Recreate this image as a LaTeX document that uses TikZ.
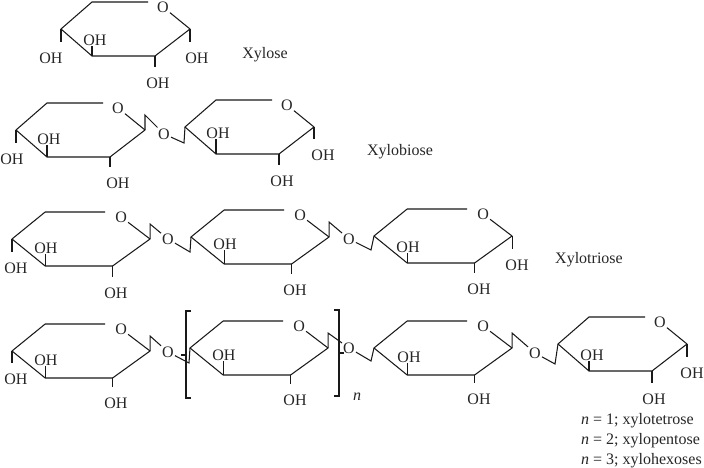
\documentclass[tikz,border=0pt]{standalone}
\usepackage{fontspec}
\setmainfont{Liberation Serif}
\tikzset{
bond/.style = {draw=black!90, line width=1.05pt},
stub/.style = {bond, shorten >=10pt},
oxy/.style = {inner sep=1pt, text=black!85, font=\fontsize{16}{18}\selectfont},
hydroxyl/.style = {inner sep=0pt, text=black!85, font=\fontsize{16}{18}\selectfont},
caption/.style = {inner sep=0pt, yshift=-2pt, text=black!85, font=\fontsize{16}{18}\selectfont},
legend/.style = {inner sep=0pt, yshift=-2pt, anchor=west, text=black!85, font=\fontsize{16}{18}\selectfont}
}
% ring: name, left vertex x, y, width factor
\newcommand{\sugarring}[4]{
    \begin{scope}[shift={(#2,#3)}, xscale=#4]
    \coordinate (#1l) at (0,0);
    \coordinate (#1tl) at (31,-27);
    \coordinate (#1tr) at (87,-27);
    \node[oxy] (#1o) at (102,-22) {O};
    \coordinate (#1c) at (129,0);
    \coordinate (#1br) at (94,27);
    \coordinate (#1bl) at (31,27);
    \end{scope}
    \draw[bond, line join=round] (#1o) -- (#1c) -- (#1br) -- (#1bl) -- (#1l) -- (#1tl) -- (#1tr);
}
% OH hanging below a vertex: name, vertex, position
\newcommand{\ohbelow}[3]{
    \node[hydroxyl] (#1) at (#3) {OH};
    \draw[stub] (#2) -- (#2 |- #1.north);
}
% OH standing above a vertex
\newcommand{\ohabove}[3]{
    \node[hydroxyl] (#1) at (#3) {OH};
    \draw[bond] (#2) -- (#2 |- #1.south);
}
% glycosidic O: name, position, from vertex, elbow position, to vertex
\newcommand{\sugarlink}[5]{
    \node[oxy] (#1) at (#2) {O};
    \draw[bond] (#3) -- ++(0,-15) -- (#1);
    \draw[bond] (#1) -- (#4) -- (#5);
}
\begin{document}
\begin{tikzpicture}[x=1pt, y=-1pt]
    \useasboundingbox (0,0) rectangle (704,468);
    % xylose
    \sugarring{a}{61}{29}{1}
    \ohbelow{a1}{al}{51,58}
    \ohabove{a2}{abl}{95,40}
    \ohbelow{a3}{abr}{158,83}
    \ohbelow{a4}{ac}{197,58}
    \node[caption] (xylose) at (265,53) {Xylose};
    % xylobiose
    \sugarring{b}{16}{130}{1}
    \ohbelow{b1}{bl}{12,159}
    \ohabove{b2}{bbl}{49,139}
    \ohbelow{b3}{bbr}{118,183}
    \sugarring{c}{185}{127}{1}
    \sugarlink{lk1}{164,134}{bc}{184,143}{cl}
    \ohabove{c2}{cbl}{218,133}
    \ohbelow{c3}{cbr}{282,181}
    \ohbelow{c4}{cc}{323,155}
    \node[caption] (xylobiose) at (400,150) {Xylobiose};
    % xylotriose
    \sugarring{d}{12}{239}{1.07}
    \ohbelow{d1}{dl}{16,268}
    \ohabove{d2}{dbl}{46,248}
    \ohbelow{d3}{dbr}{116,293}
    \sugarring{e}{191}{237}{1.07}
    \sugarlink{lk2}{168,239}{dc}{190,252}{el}
    \ohabove{e2}{ebl}{225,244}
    \ohbelow{e3}{ebr}{295,290}
    \sugarring{f}{374}{236}{1.07}
    \sugarlink{lk3}{349,239}{ec}{371,250}{fl}
    \ohabove{f2}{fbl}{408,247}
    \ohbelow{f3}{fbr}{479,289}
    \ohbelow{f4}{fc}{517,265}
    \node[caption] (xylotriose) at (589,258) {Xylotriose};
    % xylooligomers
    \sugarring{g}{12}{351}{1.07}
    \ohbelow{g1}{gl}{16,379}
    \ohabove{g2}{gbl}{46,360}
    \ohbelow{g3}{gbr}{116,403}
    \sugarring{h}{190}{348}{1.07}
    \sugarlink{lk4}{168,352}{gc}{189,363}{hl}
    \ohabove{h2}{hbl}{224,355}
    \ohbelow{h3}{hbr}{295,400}
    \sugarring{i}{374}{348}{1.07}
    \sugarlink{lk5}{349,348}{hc}{371,361}{il}
    \ohabove{i2}{ibl}{409,357}
    \ohbelow{i3}{ibr}{479,399}
    \sugarring{j}{558}{344}{1}
    \sugarlink{lk6}{535,353}{ic}{555,364}{jl}
    \ohabove{j2}{jbl}{592,355}
    \ohbelow{j3}{jbr}{654,399}
    \ohbelow{j4}{jc}{692,373}
    % repeat brackets
    \draw[bond] (191,311) -- (186,311) -- (186,398) -- (191,398);
    \draw[bond] (181,355) -- (186,355);
    \draw[bond] (334,310) -- (339,310) -- (339,396) -- (334,396);
    \draw[bond] (339,353) -- (344,353);
    \node[hydroxyl] (repeat) at (357,397) {\textit{n}};
    \node[legend] (n1) at (581,419) {\textit{n} = 1; xylotetrose};
    \node[legend] (n2) at (581,439) {\textit{n} = 2; xylopentose};
    \node[legend] (n3) at (581,459) {\textit{n} = 3; xylohexoses};
\end{tikzpicture}
\end{document}
